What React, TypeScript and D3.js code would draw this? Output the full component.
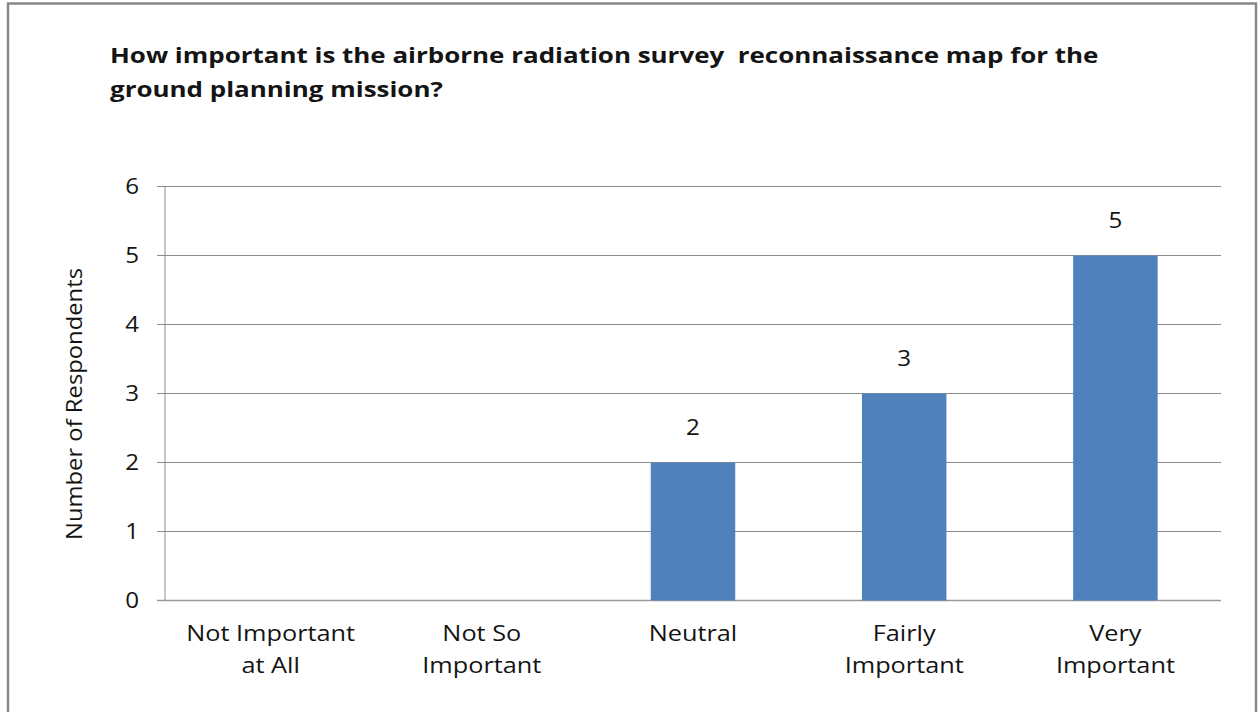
import React from "react";
import * as d3 from "d3";

const categories: string[][] = [
  ["Not Important", "at All"],
  ["Not So", "Important"],
  ["Neutral"],
  ["Fairly", "Important"],
  ["Very", "Important"],
];
const counts: (number | null)[] = [null, null, 2, 3, 5];
const yTicks: number[] = [0, 1, 2, 3, 4, 5, 6];
const titleLines: string[] = [
  "How important is the airborne radiation survey  reconnaissance map for the",
  "ground planning mission?",
];
const yTitle = "Number of Respondents";

const W = 1259;
const H = 712;
const plot = { left: 165, right: 1221, top: 186.5, bottom: 600.5 };
const font = "'Open Sans', 'Noto Sans', sans-serif";
const SX = 1.15; // horizontal text stretch
const ink = "#141414";

type TxtProps = {
  x: number;
  y: number;
  size: number;
  sx?: number;
  anchor?: "start" | "middle" | "end";
  bold?: boolean;
  children: React.ReactNode;
};

function Txt({ x, y, size, sx = SX, anchor = "start", bold = false, children }: TxtProps) {
  return (
    <g transform={`translate(${x},${y}) scale(${sx},1)`}>
      <text
        x={0}
        y={0}
        textAnchor={anchor}
        fontFamily={font}
        fontWeight={bold ? "bold" : "normal"}
        fontSize={size}
        fill={ink}
        style={{ whiteSpace: "pre" }}
      >
        {children}
      </text>
    </g>
  );
}

export default function App() {
  const x = d3
    .scaleBand<number>()
    .domain(categories.map((_, i) => i))
    .range([plot.left, plot.right])
    .paddingInner(0.6)
    .paddingOuter(0.3);
  const y = d3.scaleLinear().domain([0, 6]).range([plot.bottom, plot.top]);
  const center = (i: number) => (x(i) ?? 0) + x.bandwidth() / 2;

  return (
    <svg
      width={W}
      height={H}
      style={{ position: "absolute", left: 0, top: 0, background: "#fff" }}
    >
      <rect x={8} y={3.5} width={1248} height={720} fill="#fff" stroke="#878787" strokeWidth={2.5} />

      {/* chart title */}
      <Txt x={110} y={63} size={22} sx={1.18} bold>
        {titleLines[0]}
      </Txt>
      <Txt x={110} y={97} size={22} sx={1.18} bold>
        {titleLines[1]}
      </Txt>

      {/* gridlines, ticks and tick labels */}
      {yTicks.map((t) => (
        <g key={t}>
          <line
            x1={plot.left - 8}
            x2={plot.right}
            y1={y(t)}
            y2={y(t)}
            stroke={t === 0 ? "#9a9a9a" : "#8c8c8c"}
            strokeWidth={t === 0 ? 1.6 : 1}
          />
          <Txt x={139} y={y(t) + 7.5} size={21} anchor="end">
            {t}
          </Txt>
        </g>
      ))}
      <line x1={plot.left} x2={plot.left} y1={plot.top} y2={plot.bottom} stroke="#8c8c8c" strokeWidth={1} />

      {/* bars with value labels */}
      {counts.map((v, i) =>
        v == null ? null : (
          <g key={i}>
            <rect
              x={x(i)}
              y={y(v)}
              width={x.bandwidth()}
              height={y(0) - y(v)}
              fill="#4F81BD"
            />
            <Txt x={center(i)} y={y(v) - 28} size={21} anchor="middle">
              {v}
            </Txt>
          </g>
        )
      )}

      {/* category labels */}
      {categories.map((lines, i) => (
        <g key={i}>
          {lines.map((l, j) => (
            <Txt key={j} x={center(i)} y={641 + j * 32} size={22} anchor="middle">
              {l}
            </Txt>
          ))}
        </g>
      ))}

      {/* value axis title */}
      <text
        transform={`translate(82, ${404}) rotate(-90)`}
        textAnchor="middle"
        fontFamily={font}
        fontSize={22}
        textLength={272}
        lengthAdjust="spacingAndGlyphs"
        fill={ink}
      >
        {yTitle}
      </text>
    </svg>
  );
}
